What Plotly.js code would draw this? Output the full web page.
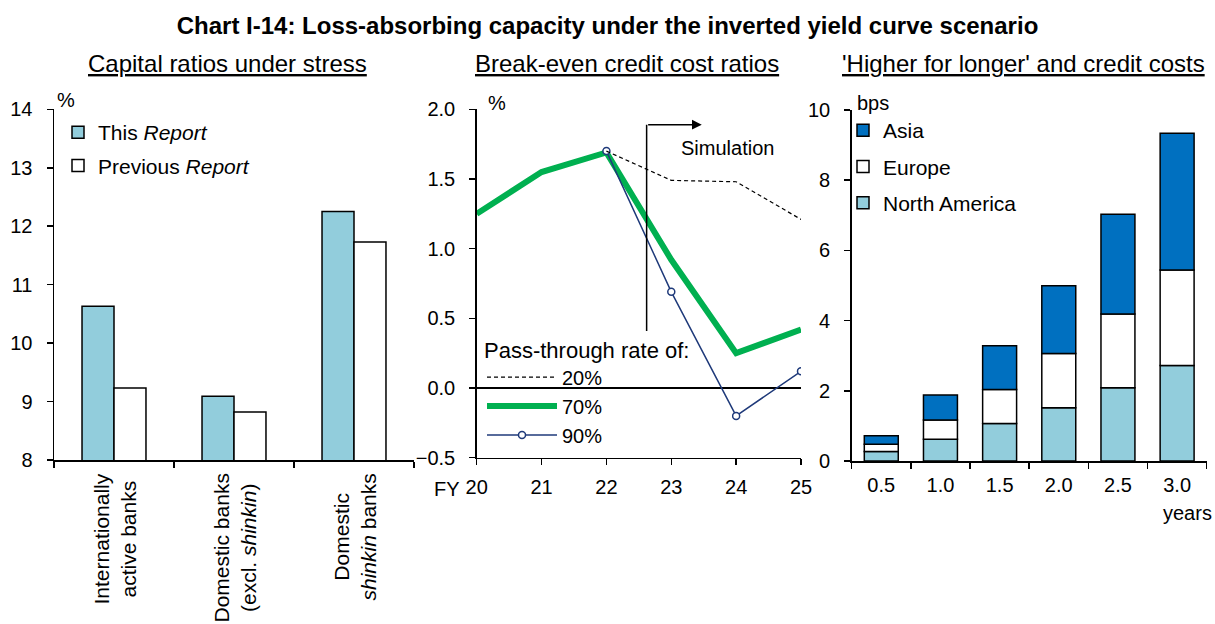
<!DOCTYPE html>
<html><head><meta charset="utf-8">
<script src="https://cdn.plot.ly/plotly-3.0.1.min.js"></script>
<style>html,body{margin:0;padding:0;background:#fff}</style>
</head><body><div id="chart" style="width:1215px;height:624px"></div>
<script>
// ---- Data: Capital ratios under stress ----
const bankCategories = ['Internationally active banks', 'Domestic banks (excl. shinkin)', 'Domestic shinkin banks'];
const bankLabels = ['Internationally<br>active banks', 'Domestic banks<br>(excl. <i>shinkin</i>)', 'Domestic<br><i>shinkin</i> banks'];
const capitalThisReport = [10.63, 9.09, 12.25];
const capitalPrevReport = [9.23, 8.82, 11.73];

// ---- Data: Break-even credit cost ratios ----
const fiscalYears = [20, 21, 22, 23, 24, 25];
const fyTickLabels = ['20', '21', '22', '23', '24', '25'];
const breakEven70 = [1.25, 1.55, 1.69, 0.92, 0.25, 0.42];
const simYears = [22, 23, 24, 25];
const breakEven20 = [1.70, 1.49, 1.48, 1.21];
const breakEven90 = [1.70, 0.69, -0.20, 0.12];

// ---- Data: 'Higher for longer' and credit costs ----
const horizons = ['0.5', '1.0', '1.5', '2.0', '2.5', '3.0'];
const creditNorthAmerica = [0.27, 0.62, 1.07, 1.52, 2.09, 2.72];
const creditEurope = [0.21, 0.55, 0.97, 1.54, 2.10, 2.72];
const creditAsia = [0.24, 0.71, 1.24, 1.93, 2.84, 3.90];

const W = 1215, H = 624;
const px = v => v / W;
const py = v => 1 - v / H;
const FONT = 'Arial, "Liberation Sans", sans-serif';
const LIGHT = '#92CDDC', DARKBLUE = '#0070C0', GREEN = '#00B050', NAVY = '#1F3A7A';

const europeBase = creditNorthAmerica.slice();
const asiaBase = creditNorthAmerica.map((v, i) => v + creditEurope[i]);

const traces = [
  {type: 'bar', x: bankCategories, y: capitalThisReport, name: 'This <i>Report</i>',
   marker: {color: LIGHT, line: {color: '#000', width: 1.5}}, xaxis: 'x', yaxis: 'y',
   legend: 'legend', legendgroup: 'g1', legendrank: 1},
  {type: 'bar', x: bankCategories, y: capitalPrevReport, name: 'Previous <i>Report</i>',
   marker: {color: '#fff', line: {color: '#000', width: 1.5}}, xaxis: 'x', yaxis: 'y',
   legend: 'legend', legendgroup: 'g2', legendrank: 2},

  {type: 'scatter', mode: 'lines', x: fiscalYears, y: breakEven70, name: '70%',
   line: {color: GREEN, width: 6}, xaxis: 'x2', yaxis: 'y2', legend: 'legend2', legendgroup: 'm2', legendrank: 2},
  {type: 'scatter', mode: 'lines+markers', x: simYears, y: breakEven90, name: '90%',
   line: {color: NAVY, width: 1.5}, marker: {symbol: 'circle', size: 7, color: '#fff', line: {color: NAVY, width: 1.5}},
   xaxis: 'x2', yaxis: 'y2', legend: 'legend2', legendgroup: 'm3', legendrank: 3},
  {type: 'scatter', mode: 'lines', x: simYears, y: breakEven20, name: '20%',
   line: {color: '#000', width: 1.2, dash: '4px,3px'}, xaxis: 'x2', yaxis: 'y2', legend: 'legend2', legendgroup: 'm1', legendrank: 1},

  {type: 'bar', x: horizons, y: creditNorthAmerica, name: 'North America', offsetgroup: 'stk', width: 0.574,
   marker: {color: LIGHT, line: {color: '#000', width: 1.5}}, xaxis: 'x3', yaxis: 'y3', legend: 'legend3', legendgroup: 'r3', legendrank: 3},
  {type: 'bar', x: horizons, y: creditEurope, base: europeBase, name: 'Europe', offsetgroup: 'stk', width: 0.574,
   marker: {color: '#fff', line: {color: '#000', width: 1.5}}, xaxis: 'x3', yaxis: 'y3', legend: 'legend3', legendgroup: 'r2', legendrank: 2},
  {type: 'bar', x: horizons, y: creditAsia, base: asiaBase, name: 'Asia', offsetgroup: 'stk', width: 0.574,
   marker: {color: DARKBLUE, line: {color: '#000', width: 1.5}}, xaxis: 'x3', yaxis: 'y3', legend: 'legend3', legendgroup: 'r1', legendrank: 1}
];

const axisCommon = {showline: true, linecolor: '#000', linewidth: 1.5, ticks: 'outside', ticklen: 6,
  tickwidth: 1.5, tickcolor: '#000', showgrid: false, zeroline: false, fixedrange: true,
  tickfont: {family: FONT, size: 20, color: '#000'}};

const sub = (t) => '<u>' + t + '</u>';
const annotations = [
  {text: sub('Capital ratios under stress'), x: px(227), y: py(64)},
  {text: sub('Break-even credit cost ratios'), x: px(627), y: py(64)},
  {text: sub("'Higher for longer' and credit costs"), x: px(1023), y: py(64)}
].map(a => Object.assign(a, {xref: 'paper', yref: 'paper', showarrow: false, xanchor: 'center', yanchor: 'middle',
  font: {family: FONT, size: 24, color: '#000'}}));

const small = [
  {text: '%', x: px(66), y: py(100)},
  {text: '%', x: px(497), y: py(103)},
  {text: 'bps', x: px(873), y: py(103)},
  {text: 'FY', x: px(447), y: py(489)},
  {text: 'years', x: px(1187), y: py(513)}
].map(a => Object.assign(a, {xref: 'paper', yref: 'paper', showarrow: false, xanchor: 'center', yanchor: 'middle',
  font: {family: FONT, size: 20, color: '#000'}}));
annotations.push(...small);

bankCategories.forEach((c, i) => annotations.push({
  text: bankLabels[i], x: c, xref: 'x', y: py(472), yref: 'paper', textangle: -90,
  xanchor: 'center', yanchor: 'top', align: 'center', showarrow: false,
  font: {family: FONT, size: 21, color: '#000'}
}));

annotations.push({text: 'Simulation', x: 23.87, y: 1.72, xref: 'x2', yref: 'y2', showarrow: false,
  font: {family: FONT, size: 20, color: '#000'}});
annotations.push({text: '', x: 23.47, y: 1.89, xref: 'x2', yref: 'y2', ax: 22.62, ay: 1.89, axref: 'x2', ayref: 'y2',
  showarrow: true, arrowhead: 2, arrowsize: 1.3, arrowwidth: 1.5, arrowcolor: '#000'});

const layout = {
  width: W, height: H, margin: {l: 0, r: 0, t: 0, b: 0},
  paper_bgcolor: '#fff', plot_bgcolor: 'rgba(0,0,0,0)',
  font: {family: FONT, size: 20, color: '#000'},
  title: {text: '<b>Chart I-14: Loss-absorbing capacity under the inverted yield curve scenario</b>',
    x: 0.5, xanchor: 'center', y: py(26), yanchor: 'middle', font: {family: FONT, size: 24, color: '#000'}},
  barmode: 'group', bargap: 0.467, bargroupgap: 0,
  xaxis: Object.assign({}, axisCommon, {domain: [px(54), px(414)], anchor: 'y', type: 'category',
    tickson: 'boundaries', showticklabels: false, range: [-0.5, 2.5]}),
  yaxis: Object.assign({}, axisCommon, {domain: [py(460), py(109.3)], anchor: 'x', range: [8, 14], dtick: 1,
    ticklabelstandoff: 10}),
  xaxis2: Object.assign({}, axisCommon, {domain: [px(476.7), px(801)], anchor: 'y2', range: [20, 25],
    tickvals: fiscalYears, ticktext: fyTickLabels, ticklabelstandoff: 5}),
  yaxis2: Object.assign({}, axisCommon, {domain: [py(457.7), py(109.3)], anchor: 'x2', range: [-0.5, 2.0], dtick: 0.5,
    tickformat: '.1f', zeroline: true, zerolinecolor: '#000', zerolinewidth: 1.5, ticklabelstandoff: 10}),
  xaxis3: Object.assign({}, axisCommon, {domain: [px(851.7), px(1206.7)], anchor: 'y3', type: 'category',
    tickson: 'boundaries', range: [-0.5, 5.5], ticklabelstandoff: 5}),
  yaxis3: Object.assign({}, axisCommon, {domain: [py(461), py(110)], anchor: 'x3', range: [0, 10], dtick: 2,
    ticklabelstandoff: 10}),
  legend: {x: px(58), y: py(112), xanchor: 'left', yanchor: 'top', bgcolor: 'rgba(0,0,0,0)', borderwidth: 0,
    traceorder: 'grouped', tracegroupgap: 3, font: {family: FONT, size: 21, color: '#000'}},
  legend2: {x: px(482), y: py(329), xanchor: 'left', yanchor: 'top', bgcolor: 'rgba(0,0,0,0)', borderwidth: 0,
    traceorder: 'grouped', tracegroupgap: 0, itemwidth: 70,
    title: {text: 'Pass-through rate of:', font: {family: FONT, size: 22, color: '#000'}},
    font: {family: FONT, size: 20, color: '#000'}},
  legend3: {x: px(843), y: py(110), xanchor: 'left', yanchor: 'top', bgcolor: 'rgba(0,0,0,0)', borderwidth: 0,
    traceorder: 'grouped', tracegroupgap: 6, font: {family: FONT, size: 21, color: '#000'}},
  shapes: [{type: 'line', xref: 'x2', yref: 'y2', x0: 22.62, x1: 22.62, y0: 0.41, y1: 1.89,
    line: {color: '#000', width: 1.5}}],
  annotations: annotations,
  showlegend: true
};

Plotly.newPlot('chart', traces, layout, {displayModeBar: false, staticPlot: true});
</script></body></html>
